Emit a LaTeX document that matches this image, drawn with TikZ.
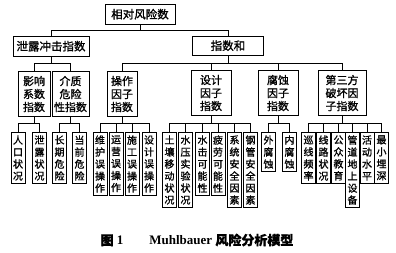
\documentclass[tikz,border=0pt]{standalone}
\usepackage{fontspec}
\setmainfont{Liberation Serif}
\newfontfamily\cjk[FakeBold=1.2]{Noto Sans CJK SC}
\usetikzlibrary{positioning}

\begin{document}
\begin{tikzpicture}[
  x=1pt, y=-1pt,
  line width=0.6pt, line join=miter,
  topbox/.style = {draw, line width=0.9pt, inner sep=2pt, minimum height=19.5pt,
                   anchor=north, font=\cjk\fontsize{11.5}{13}\selectfont},
  midbox/.style = {draw, line width=0.9pt, inner xsep=2pt, inner ysep=4.5pt,
                   align=center, anchor=north, font=\cjk\fontsize{11}{13}\selectfont},
  leaf/.style   = {draw, line width=0.9pt, inner xsep=2pt, inner ysep=3pt,
                   align=center, anchor=north, font=\cjk\fontsize{10}{12}\selectfont},
  captext/.style = {font=\bfseries\fontsize{13}{15}\selectfont}
]
\useasboundingbox (0,0) rectangle (396,252);

% 顶层
\node[topbox, minimum width=70pt] (risk) at (140,4) {相对风险数};
\node[topbox, minimum width=76pt] (leak) at (51,36) {泄露冲击指数};
\node[topbox, minimum width=71pt] (isum) at (228,35.5) {指数和};

\draw (risk.south) -- ++(0,6) -| (leak.north);
\draw (risk.south) -- ++(0,6) -| (isum.north);

% 中间层
\node[midbox, minimum width=32pt] (infl) at (34,71) {影响\\系数\\指数};
\node[midbox, minimum width=37pt] (medi) at (70.5,71) {介质\\危险\\性指数};
\node[midbox, minimum width=30pt] (oper) at (122,71) {操作\\因子\\指数};
\node[midbox, minimum width=40pt] (desi) at (211,70) {设计\\因子\\指数};
\node[midbox, minimum width=40pt] (corr) at (278,70) {腐蚀\\因子\\指数};
\node[midbox, minimum width=48pt] (thrd) at (342,70) {第三方\\破坏因\\子指数};

\foreach \c in {infl, medi}
  \draw (leak.south) -- ++(0,7) -| (\c.north);
\foreach \c in {oper, desi, corr, thrd}
  \draw (isum.south) -- ++(0,7) -| (\c.north);

% 底层
\node[leaf] (pop)  at (18,132)   {人\\口\\状\\况};
\node[leaf] (lks)  at (39.5,132) {泄\\露\\状\\况};
\node[leaf] (lng)  at (59.5,132) {长\\期\\危\\险};
\node[leaf] (cur)  at (79.5,132) {当\\前\\危\\险};

\node[leaf] (mnt)  at (100,132)  {维\\护\\误\\操\\作};
\node[leaf] (run)  at (116,132)  {运\\营\\误\\操\\作};
\node[leaf] (bld)  at (132,132)  {施\\工\\误\\操\\作};
\node[leaf] (dsg)  at (149,132)  {设\\计\\误\\操\\作};

\node[leaf] (soil) at (169.5,132) {土\\壤\\移\\动\\状\\况};
\node[leaf] (hyd)  at (185.5,132) {水\\压\\实\\验\\状\\况};
\node[leaf] (ham)  at (202.5,132) {水\\击\\可\\能\\性};
\node[leaf] (fat)  at (218,132)   {疲\\劳\\可\\能\\性};
\node[leaf] (sys)  at (234.5,132) {系\\统\\安\\全\\因\\素};
\node[leaf] (pipe) at (250.5,132) {钢\\管\\安\\全\\因\\素};

\node[leaf] (ext)  at (268.5,132) {外\\腐\\蚀};
\node[leaf] (int)  at (289.5,132) {内\\腐\\蚀};

\node[leaf] (pat)  at (308.5,132) {巡\\线\\频\\率};
\node[leaf] (row)  at (323.5,132) {线\\路\\状\\况};
\node[leaf] (edu)  at (338.5,132) {公\\众\\教\\育};
\node[leaf] (abv)  at (352.5,132) {管\\道\\地\\上\\设\\备};
\node[leaf] (act)  at (367,132)   {活\\动\\水\\平};
\node[leaf] (dep)  at (381.5,132) {最\\小\\埋\\深};

\foreach \c in {pop, lks}
  \draw (infl.south) -- ++(0,6.5) -| (\c.north);
\foreach \c in {lng, cur}
  \draw (medi.south) -- ++(0,6.5) -| (\c.north);
\foreach \c in {mnt, run, bld, dsg}
  \draw (oper.south) -- ++(0,6.5) -| (\c.north);
\foreach \c in {soil, hyd, ham, fat, sys, pipe}
  \draw (desi.south) -- ++(0,7.5) -| (\c.north);
\foreach \c in {ext, int}
  \draw (corr.south) -- ++(0,7.5) -| (\c.north);
\foreach \c in {pat, row, edu, abv, act, dep}
  \draw (thrd.south) -- ++(0,7.5) -| (\c.north);

% 图题
\node[captext] (title) at (197,240) {{\cjk\bfseries 图} 1\quad\quad Muhlbauer {\cjk\bfseries 风险分析模型}};

\end{tikzpicture}
\end{document}
